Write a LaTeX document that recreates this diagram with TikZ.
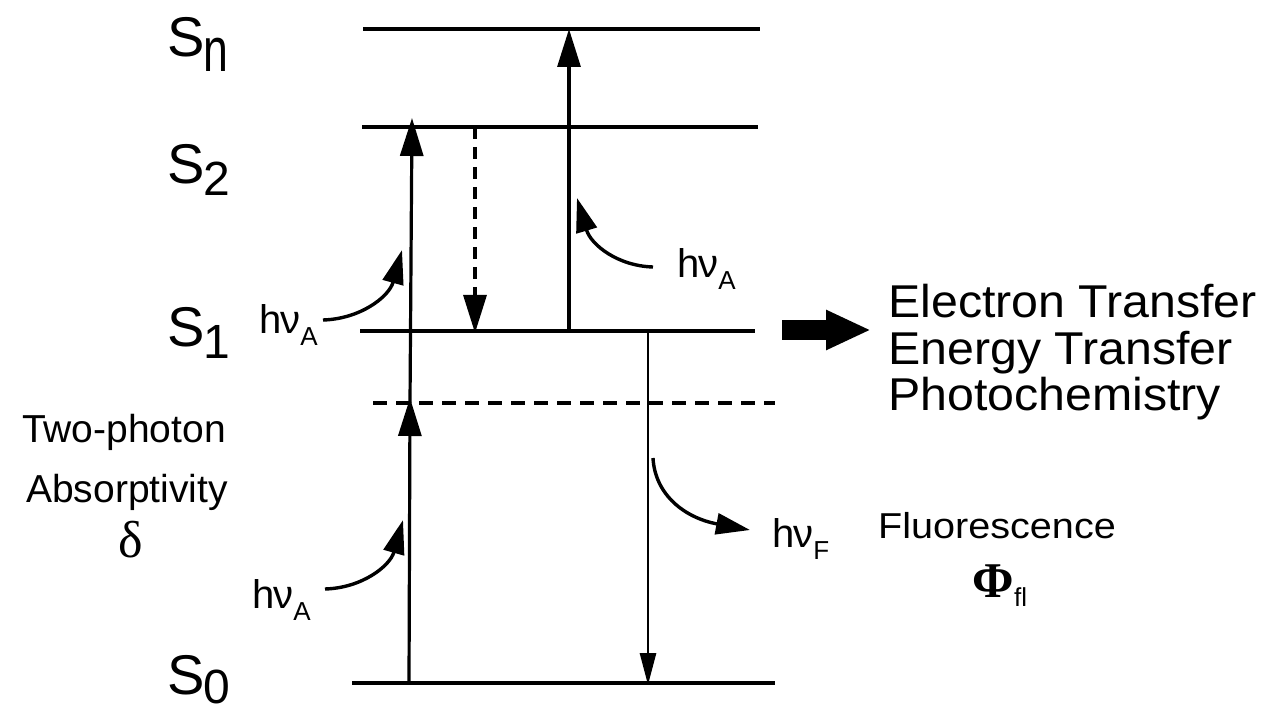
\documentclass[tikz,border=0pt]{standalone}
\usepackage{fontspec}
\setmainfont{Liberation Sans}
\newfontfamily\grk{Liberation Serif}
\usetikzlibrary{arrows.meta}
\newcommand{\hnu}[1]{\fontsize{40}{40}\selectfont h\kern-1ptν\raisebox{-12pt}{\fontsize{26}{26}\selectfont #1}}
\newcommand{\Slab}[2]{\fontsize{56}{56}\selectfont S\kern-1pt\raisebox{-#1}{#2}}
\newcommand{\widetext}[3]{\scalebox{#2}[1]{\fontsize{#1}{#1}\selectfont #3}}
\begin{document}
\begin{tikzpicture}[x=1pt,y=-1pt,
  level/.style={line width=3.8pt},
  vlevel/.style={line width=3.4pt,dash pattern=on 14pt off 9pt},
  trans/.style={line width=3.2pt,-{Triangle[length=38pt,width=23pt]}},
  dtrans/.style={line width=3.2pt,dash pattern=on 12pt off 8pt,-{Triangle[length=38pt,width=23pt]}},
  ftrans/.style={line width=2.8pt,-{Triangle[length=32pt,width=16pt]}},
  photon/.style={line width=3.4pt,-{Triangle[length=34pt,width=21pt]}},
  lab/.style={inner sep=0pt}]
\useasboundingbox (0,0) rectangle (1277,711);

% energy levels
\coordinate (n0) at (363,29);  \coordinate (n1) at (760,29);
\coordinate (t0) at (362,127); \coordinate (t1) at (758,127);
\coordinate (o0) at (360,331); \coordinate (o1) at (755,331);
\coordinate (v0) at (373,403); \coordinate (v1) at (775,403);
\coordinate (z0) at (352,683); \coordinate (z1) at (775,683);
\draw[level] (n0) -- (n1);
\draw[level] (t0) -- (t1);
\draw[level] (o0) -- (o1);
\draw[vlevel] (v0) -- (v1);
\draw[level] (z0) -- (z1);

% level labels
\node[lab,anchor=base west] (Sn) at (167,57) {\Slab{15pt}{\scalebox{0.72}[1]{\fontsize{62}{62}\selectfont n}}};
\node[lab,anchor=base west] (S2) at (167,184) {\Slab{12pt}{\fontsize{48}{48}\selectfont 2}};
\node[lab,anchor=base west] (S1) at (167,346) {\Slab{12pt}{\fontsize{48}{48}\selectfont 1}};
\node[lab,anchor=base west] (S0) at (167,694) {\Slab{9pt}{\fontsize{48}{48}\selectfont 0}};

% two-photon absorption
\coordinate (a0) at (409,683); \coordinate (a1) at (410,398);
\coordinate (b0) at (410,403); \coordinate (b1) at (412,118);
\draw[trans] (a0) -- (a1);
\draw[trans] (b0) -- (b1);

% internal conversion S2 -> S1
\coordinate (c0) at (475,127); \coordinate (c1) at (475,333);
\draw[dtrans] (c0) -- (c1);

% S1 -> Sn absorption
\coordinate (d0) at (569,331); \coordinate (d1) at (569,29);
\draw[trans] (d0) -- (d1);

% fluorescence
\coordinate (f0) at (648,331); \coordinate (f1) at (648,685);
\draw[ftrans] (f0) -- (f1);

% photon labels and curved arrows
\node[lab,anchor=base west] (hA1) at (252,608) {\hnu{A}};
\node[lab,anchor=base west] (hA2) at (259,334) {\hnu{A}};
\node[lab,anchor=base west] (hA3) at (677,278) {\hnu{A}};
\node[lab,anchor=base west] (hF) at (772,547) {\hnu{F}};

\coordinate (p1s) at (325,589); \coordinate (p1e) at (403,520);
\draw[photon] (p1s) .. controls (362,588) and (390,566) .. (p1e);
\coordinate (p2s) at (323,320); \coordinate (p2e) at (402,250);
\draw[photon] (p2s) .. controls (360,319) and (389,297) .. (p2e);
\coordinate (p3s) at (653,267); \coordinate (p3e) at (577,198);
\draw[photon] (p3s) .. controls (618,266) and (591,245) .. (p3e);
\coordinate (p4s) at (653,458); \coordinate (p4e) at (750,530);
\draw[photon] (p4s) .. controls (655,495) and (685,518) .. (p4e);

% left text
\node[lab,anchor=base] (tp) at (124,442) {\fontsize{39}{39}\selectfont Two-photon};
\node[lab,anchor=base] (ab) at (127,502) {\fontsize{39}{39}\selectfont Absorptivity};
\node[lab,anchor=base] (dl) at (131,557) {\grk\fontsize{52}{52}\selectfont δ};

% right text
\coordinate (k0) at (782,330); \coordinate (k1) at (871,330);
\draw[line width=19pt,-{Triangle[length=45pt,width=37pt]}] (k0) -- (k1);
\node[lab,anchor=base west] (et) at (888,318) {\widetext{46}{1.05}{Electron Transfer}};
\node[lab,anchor=base west] (eg) at (888,364) {\widetext{46}{1.05}{Energy Transfer}};
\node[lab,anchor=base west] (pc) at (888,410) {\widetext{46}{1.05}{Photochemistry}};

\node[lab,anchor=base] (fl) at (997,538) {\widetext{36}{1.1}{Fluorescence}};
\node[lab,anchor=base] (phi) at (1000,597) {\grk\bfseries\fontsize{50}{50}\selectfont Φ\raisebox{-9pt}{\rmfamily\mdseries\fontsize{26}{26}\selectfont fl}};
\end{tikzpicture}
\end{document}
